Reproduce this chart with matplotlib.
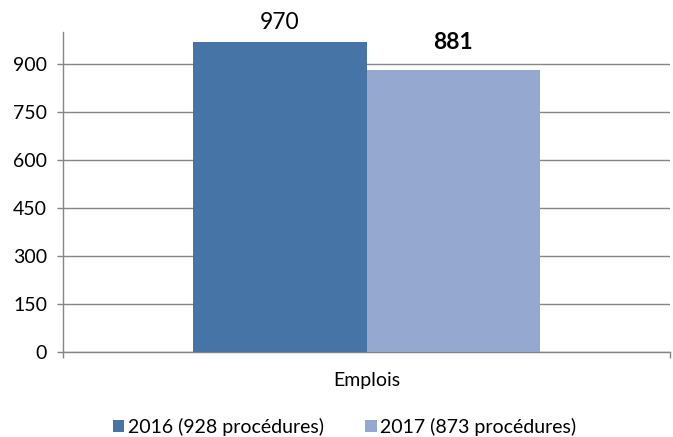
import matplotlib
matplotlib.use("Agg")
import matplotlib.pyplot as plt
from matplotlib.patches import Patch

plt.rcParams['font.family'] = ['Lato', 'DejaVu Sans']

category = "Emplois"
series_names = ["2016 (928 procédures)", "2017 (873 procédures)"]
values = [970, 881]
label_bold = [False, True]
colors = ["#4674A6", "#95A9D0"]
yticks = [0, 150, 300, 450, 600, 750, 900]

fig = plt.figure(figsize=(6.73, 4.37), dpi=100)
ax = fig.add_axes([0.0936, 0.1945, 0.902, 0.732])

bar_w = 0.286
offsets = [-bar_w / 2, bar_w / 2]
label_gap_pt = [6.5, 12.5]
for off, v, c, b, gap in zip(offsets, values, colors, label_bold, label_gap_pt):
    ax.bar(off, v, width=bar_w, color=c, zorder=3)
    ax.annotate(f"{v}", xy=(off, v), xytext=(0, gap), textcoords="offset points",
                ha="center", va="bottom", fontsize=16.5,
                fontweight="bold" if b else "normal", color="black")

ax.set_xlim(-0.5, 0.5)
ax.set_ylim(0, 1000)
ax.set_yticks(yticks)
ax.set_yticklabels([str(t) for t in yticks], fontsize=14)
ax.yaxis.grid(True, color="#868686", linewidth=1.0, zorder=0)
ax.set_axisbelow(True)

ax.set_xticks([-0.5, 0.5])
ax.set_xticklabels(["", ""])
ax.tick_params(axis="x", length=4.5, width=1, color="#868686", direction="out")
ax.tick_params(axis="y", length=4.5, width=1, color="#868686", direction="out", pad=7)
ax.text(0, -0.09, category, transform=ax.get_xaxis_transform(), ha="center",
        va="center", fontsize=14)

for s in ["top", "right"]:
    ax.spines[s].set_visible(False)
for s in ["left", "bottom"]:
    ax.spines[s].set_color("#868686")
    ax.spines[s].set_linewidth(1.0)

handles = [Patch(facecolor=c, edgecolor="none") for c in colors]
fig.legend(handles, series_names, loc="center", bbox_to_anchor=(0.512, 0.024),
           ncol=2, frameon=False, fontsize=14, handlelength=0.6, handleheight=0.6,
           handletextpad=0.2, columnspacing=2.1, borderpad=0)

fig.savefig("out.png", dpi=100)
